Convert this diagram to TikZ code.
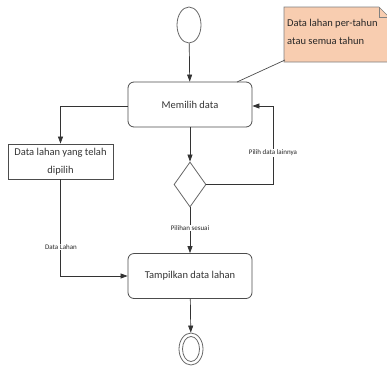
\documentclass[tikz,border=0pt]{standalone}
\usepackage{fontspec}
\setmainfont{Carlito}
\usetikzlibrary{arrows.meta,shapes.geometric,positioning}
\definecolor{notefill}{HTML}{F8CDB0}
\begin{document}
\begin{tikzpicture}[x=1pt,y=-1pt,
  line/.style={draw=black!80, line width=0.7pt},
  arr/.style={line, -{Triangle[length=7pt,width=5pt]}},
  act/.style={draw=black!70, line width=0.8pt, rounded corners=6pt, minimum width=124pt, minimum height=45pt, inner sep=0pt, font=\fontsize{10.5}{12}\selectfont, text=black!80},
  obj/.style={draw=black!70, line width=0.8pt, minimum width=105pt, minimum height=35pt, inner sep=0pt, align=center, font=\fontsize{10.5}{18}\selectfont, text=black!80},
  lbl/.style={font=\fontsize{7}{8}\selectfont, text=black!85, fill=white, inner sep=1pt},
  node distance=0pt]
\useasboundingbox (0,0) rectangle (387,367);
% start
\node[draw=black!60, line width=0.8pt, ellipse, minimum width=24pt, minimum height=36pt, inner sep=0pt] (start) at (189,25) {};
% activities
\node[act] (memilih) at (190,104.5) {Memilih data};
\node[act] (tampil) at (190,276) {Tampilkan data lahan};
% object
\node[obj] (obj) at (60.5,161.5) {Data lahan yang telah\\dipilih};
% decision
\node[draw=black!60, line width=0.8pt, diamond, minimum width=32pt, minimum height=45pt, inner sep=0pt] (dec) at (190,184.5) {};
% end
\node[draw=black!60, line width=0.8pt, ellipse, minimum width=24pt, minimum height=32pt, inner sep=0pt] (end) at (191,349) {};
\node[draw=black!60, line width=0.8pt, ellipse, minimum width=17pt, minimum height=25pt, inner sep=0pt] (endin) at (191,349) {};
% note
\fill[fill=notefill, draw=black!50, line width=0.6pt] (284,7) -- (379,7) -- (389,17) -- (389,62) -- (284,62) -- cycle;
\draw[draw=black!50, line width=0.5pt] (379,7) -- (379,17) -- (389,17);
\node[anchor=north west, align=left, font=\fontsize{10.5}{18}\selectfont, text=black!85, inner sep=0pt] (note) at (287,19) {Data lahan per-tahun\\atau semua tahun};
\coordinate (notec) at (285,60);
\coordinate (memtop) at (237,82);
\draw[line, draw=black!70] (notec) -- (memtop);
% connectors
\draw[arr] (start) -- (memilih);
\draw[arr] (memilih.west |- 0,106) -| (obj.north);
\draw[arr] (memilih) -- (dec);
\draw[arr] (dec.east) -- (273,184.5) |- (memilih.east |- 0,106);
\node[lbl] at (273,153) {Pilih data lainnya};
\draw[arr] (dec) -- (tampil) node[lbl, pos=0.45] {Pilihan sesuai};
\draw[arr] (obj.south) |- (tampil.west);
\node[lbl] at (61,247) {Data Lahan};
\draw[arr] (tampil) -- (end);
\end{tikzpicture}
\end{document}
